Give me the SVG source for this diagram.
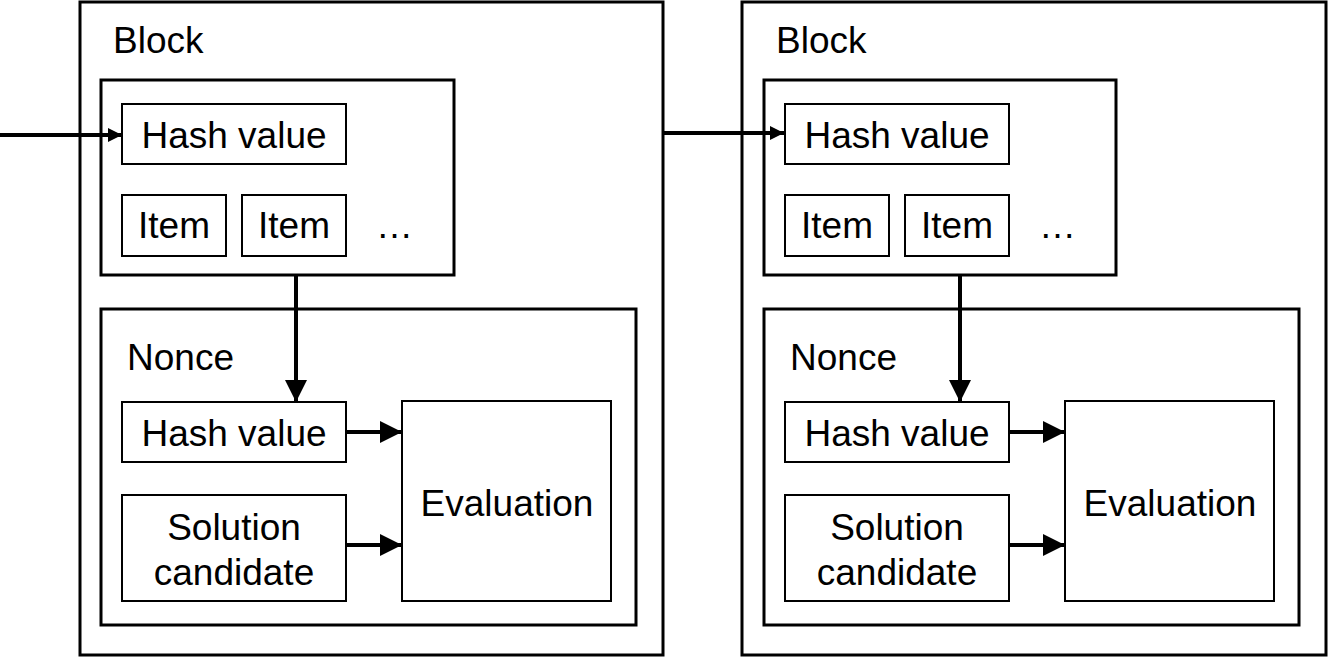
<svg xmlns="http://www.w3.org/2000/svg" width="1330" height="659" viewBox="0 0 1330 659">
<style>
.outer{fill:#fff;stroke:#000;stroke-width:3}
.box{fill:#fff;stroke:#000;stroke-width:3}
.inner{fill:#fff;stroke:#000;stroke-width:2}
.t{font-family:"Liberation Sans",Arial,sans-serif;font-size:37px;fill:#000}
.c{text-anchor:middle}
.ln{stroke:#000;stroke-width:4;fill:none}
</style>
<defs>
<marker id="ahS" markerUnits="userSpaceOnUse" markerWidth="16" markerHeight="16" refX="14" refY="7" orient="auto"><path d="M0,0 L14,7 L0,14 Z" fill="#000"/></marker>
<marker id="ahL" markerUnits="userSpaceOnUse" markerWidth="24" markerHeight="24" refX="22" refY="11" orient="auto"><path d="M0,0 L22,11 L0,22 Z" fill="#000"/></marker>
</defs>
<g id="block1">
<rect class="outer" x="80" y="2" width="583" height="653"/>
<text class="t" x="113" y="53">Block</text>
</g>
<g id="header1">
<rect class="box" x="101" y="80" width="353" height="195"/>
</g>
<g id="hash1">
<rect class="inner" x="122" y="104" width="224" height="60"/>
<text class="t c" x="234" y="148">Hash value</text>
</g>
<g id="item1a">
<rect class="inner" x="122" y="195" width="104" height="61"/>
<text class="t c" x="174" y="238">Item</text>
</g>
<g id="item1b">
<rect class="inner" x="242" y="195" width="104" height="61"/>
<text class="t c" x="294" y="238">Item</text>
</g>
<g id="ellipsis1"><text class="t" x="376" y="238">…</text></g>
<g id="nonce1">
<rect class="box" x="101" y="309" width="535" height="316"/>
<text class="t" x="127" y="370">Nonce</text>
</g>
<g id="nhash1">
<rect class="inner" x="122" y="402" width="224" height="60"/>
<text class="t c" x="234" y="446">Hash value</text>
</g>
<g id="sol1">
<rect class="inner" x="122" y="495" width="224" height="106"/>
<text class="t c" x="234" y="540">Solution</text>
<text class="t c" x="234" y="585">candidate</text>
</g>
<g id="eval1">
<rect class="inner" x="402" y="401" width="209" height="200"/>
<text class="t c" x="507" y="516">Evaluation</text>
</g>
<g id="block2">
<rect class="outer" x="742" y="2" width="584" height="653"/>
<text class="t" x="776" y="53">Block</text>
</g>
<g id="header2">
<rect class="box" x="764" y="80" width="352" height="195"/>
</g>
<g id="hash2">
<rect class="inner" x="785" y="104" width="224" height="60"/>
<text class="t c" x="897" y="148">Hash value</text>
</g>
<g id="item2a">
<rect class="inner" x="785" y="195" width="104" height="61"/>
<text class="t c" x="837" y="238">Item</text>
</g>
<g id="item2b">
<rect class="inner" x="905" y="195" width="104" height="61"/>
<text class="t c" x="957" y="238">Item</text>
</g>
<g id="ellipsis2"><text class="t" x="1039" y="238">…</text></g>
<g id="nonce2">
<rect class="box" x="764" y="309" width="535" height="316"/>
<text class="t" x="790" y="370">Nonce</text>
</g>
<g id="nhash2">
<rect class="inner" x="785" y="402" width="224" height="60"/>
<text class="t c" x="897" y="446">Hash value</text>
</g>
<g id="sol2">
<rect class="inner" x="785" y="495" width="224" height="106"/>
<text class="t c" x="897" y="540">Solution</text>
<text class="t c" x="897" y="585">candidate</text>
</g>
<g id="eval2">
<rect class="inner" x="1065" y="401" width="209" height="200"/>
<text class="t c" x="1170" y="516">Evaluation</text>
</g>
<g id="connectors">
<line class="ln" x1="0" y1="135" x2="122" y2="135" marker-end="url(#ahS)"/>
<line class="ln" x1="663" y1="133" x2="784" y2="133" marker-end="url(#ahS)"/>
<line class="ln" x1="296" y1="275" x2="296" y2="402" marker-end="url(#ahL)"/>
<line class="ln" x1="960" y1="275" x2="960" y2="402" marker-end="url(#ahL)"/>
<line class="ln" x1="346" y1="432" x2="402" y2="432" marker-end="url(#ahL)"/>
<line class="ln" x1="346" y1="545" x2="402" y2="545" marker-end="url(#ahL)"/>
<line class="ln" x1="1009" y1="432" x2="1065" y2="432" marker-end="url(#ahL)"/>
<line class="ln" x1="1009" y1="545" x2="1065" y2="545" marker-end="url(#ahL)"/>
</g>
</svg>
